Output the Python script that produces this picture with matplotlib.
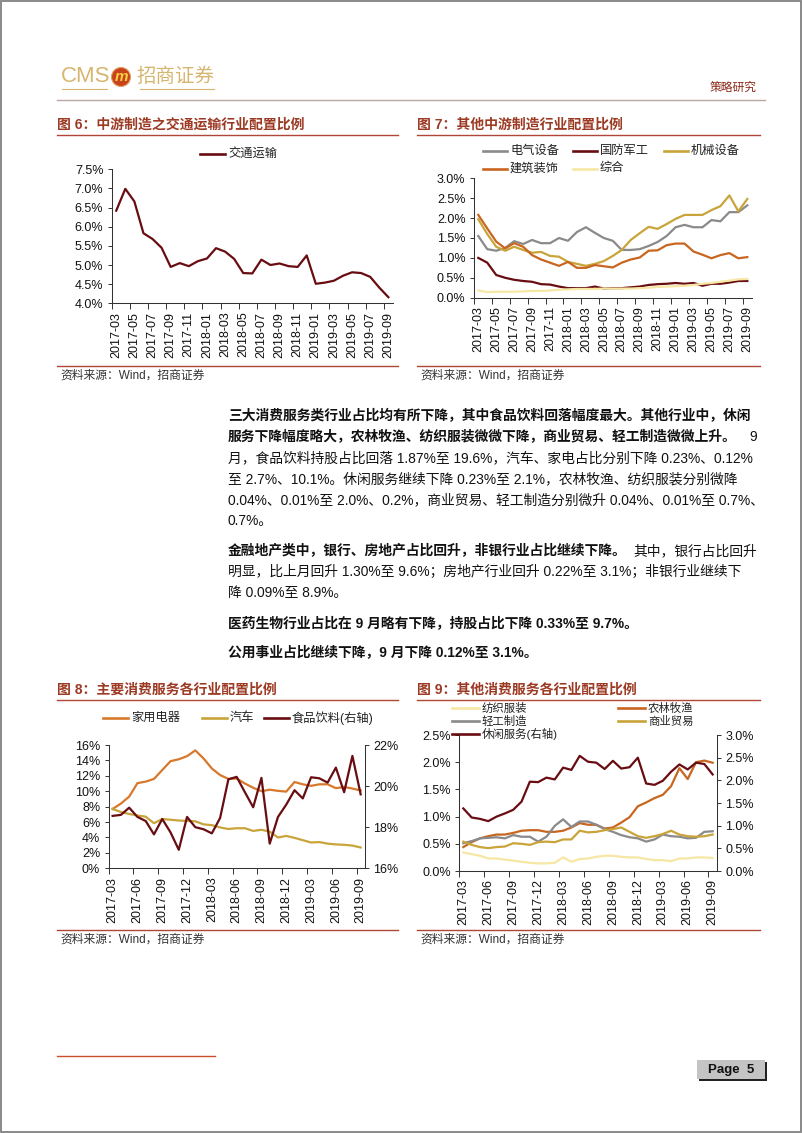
import matplotlib

matplotlib.use("Agg")
import matplotlib.pyplot as plt  # noqa: E402
import numpy as np  # noqa: E402
from matplotlib.lines import Line2D  # noqa: E402
from matplotlib.patches import Ellipse, Rectangle  # noqa: E402
from matplotlib.ticker import FuncFormatter  # noqa: E402

W, H = 802, 1133
FONT = ["Liberation Sans", "Noto Sans CJK SC"]
plt.rcParams.update({"font.family": FONT, "font.size": 8.8, "axes.unicode_minus": False})

# month categories shared by all four charts
MONTHS = [
    "2017-03", "2017-04", "2017-05", "2017-06", "2017-07", "2017-08", "2017-09", "2017-10",
    "2017-11", "2017-12", "2018-01", "2018-02", "2018-03", "2018-04", "2018-05", "2018-06",
    "2018-07", "2018-08", "2018-09", "2018-10", "2018-11", "2018-12", "2019-01", "2019-02",
    "2019-03", "2019-04", "2019-05", "2019-06", "2019-07", "2019-08", "2019-09",
]

# fig 6 (%)
TRANSPORT = [6.42, 6.99, 6.66, 5.83, 5.68, 5.45, 4.95, 5.05, 4.97, 5.10, 5.17, 5.44, 5.35, 5.16,
             4.79, 4.78, 5.14, 5.00, 5.04, 4.97, 4.95, 5.25, 4.51, 4.54, 4.59, 4.72, 4.81, 4.79,
             4.69, 4.41, 4.16]

# fig 7 (%)
ELEC = [1.55, 1.22, 1.18, 1.25, 1.42, 1.35, 1.45, 1.37, 1.37, 1.50, 1.43, 1.65, 1.77, 1.63,
        1.50, 1.43, 1.20, 1.20, 1.22, 1.30, 1.40, 1.55, 1.77, 1.83, 1.77, 1.77, 1.95, 1.92,
        2.15, 2.15, 2.32]
DEFENSE = [1.00, 0.88, 0.57, 0.50, 0.45, 0.42, 0.40, 0.34, 0.33, 0.28, 0.24, 0.24, 0.24, 0.28,
           0.23, 0.24, 0.24, 0.26, 0.28, 0.32, 0.34, 0.35, 0.37, 0.35, 0.37, 0.30, 0.35, 0.35,
           0.38, 0.42, 0.42]
MACHINE = [1.97, 1.60, 1.28, 1.18, 1.28, 1.20, 1.13, 1.15, 1.05, 1.03, 0.90, 0.85, 0.80, 0.85,
           0.92, 1.05, 1.20, 1.45, 1.62, 1.78, 1.73, 1.85, 1.98, 2.08, 2.08, 2.08, 2.20, 2.30,
           2.57, 2.17, 2.48]
BUILD = [2.08, 1.74, 1.41, 1.24, 1.37, 1.28, 1.07, 0.96, 0.88, 0.80, 0.90, 0.75, 0.75, 0.82,
         0.79, 0.76, 0.88, 0.96, 1.01, 1.18, 1.19, 1.32, 1.36, 1.36, 1.16, 1.08, 0.99, 1.07,
         1.12, 0.99, 1.02]
CONGLOM = [0.18, 0.14, 0.15, 0.15, 0.15, 0.16, 0.17, 0.17, 0.18, 0.20, 0.21, 0.22, 0.22, 0.22,
           0.23, 0.23, 0.23, 0.23, 0.24, 0.25, 0.27, 0.28, 0.29, 0.30, 0.32, 0.35, 0.37, 0.40,
           0.43, 0.46, 0.47]

# fig 8 (%), food on right axis
APPLIANCE = [7.7, 8.4, 9.3, 11.05, 11.25, 11.6, 12.75, 13.9, 14.15, 14.55, 15.3, 14.25, 12.95,
             12.1, 11.6, 11.65, 11.0, 10.45, 10.0, 10.2, 10.05, 9.95, 11.2, 10.9, 10.7, 10.9,
             10.9, 10.4, 10.55, 10.35, 10.1]
AUTO = [7.7, 7.3, 7.05, 6.85, 6.7, 5.85, 6.4, 6.3, 6.2, 6.15, 6.1, 5.7, 5.6, 5.3, 5.1, 5.2, 5.2,
        4.85, 5.0, 4.75, 4.0, 4.2, 3.95, 3.65, 3.35, 3.4, 3.2, 3.1, 3.05, 2.95, 2.7]
FOOD = [18.55, 18.6, 18.95, 18.5, 18.3, 17.65, 18.4, 17.75, 16.9, 18.5, 18.0, 17.9, 17.7, 18.45,
        20.33, 20.45, 19.7, 18.97, 20.4, 17.2, 18.5, 19.1, 19.8, 19.4, 20.43, 20.38, 20.17,
        20.9, 19.7, 21.47, 19.6]

# fig 9 (%), leisure on right axis
TEXTILE = [0.34, 0.31, 0.28, 0.23, 0.23, 0.21, 0.19, 0.17, 0.15, 0.14, 0.14, 0.15, 0.25, 0.17,
           0.22, 0.23, 0.26, 0.28, 0.28, 0.26, 0.25, 0.25, 0.22, 0.20, 0.20, 0.18, 0.23, 0.23,
           0.25, 0.25, 0.24]
AGRI = [0.44, 0.53, 0.60, 0.64, 0.67, 0.67, 0.70, 0.74, 0.75, 0.75, 0.72, 0.72, 0.74, 0.80,
        0.88, 0.85, 0.85, 0.78, 0.80, 0.89, 0.99, 1.19, 1.26, 1.34, 1.40, 1.56, 1.89, 1.69,
        2.00, 2.03, 1.99]
LIGHT = [0.51, 0.55, 0.60, 0.61, 0.62, 0.60, 0.66, 0.63, 0.63, 0.54, 0.63, 0.83, 0.95, 0.81,
         0.91, 0.91, 0.85, 0.77, 0.72, 0.66, 0.62, 0.60, 0.54, 0.58, 0.67, 0.64, 0.63, 0.60,
         0.61, 0.72, 0.73]
TRADE = [0.54, 0.48, 0.44, 0.42, 0.44, 0.45, 0.51, 0.50, 0.48, 0.53, 0.54, 0.53, 0.58, 0.58,
         0.74, 0.71, 0.72, 0.75, 0.77, 0.80, 0.72, 0.64, 0.61, 0.64, 0.68, 0.74, 0.67, 0.64,
         0.63, 0.64, 0.67]
LEISURE = [1.38, 1.18, 1.15, 1.10, 1.20, 1.27, 1.35, 1.53, 1.97, 1.96, 2.06, 2.02, 2.28, 2.23,
           2.54, 2.41, 2.39, 2.25, 2.43, 2.26, 2.29, 2.50, 1.93, 1.90, 1.99, 2.19, 2.35, 2.24,
           2.39, 2.36, 2.13]

C = {
    "maroon": "#680d12",
    "gray": "#8a8a8c",
    "gold": "#c9a43a",
    "orange": "#c8661f",
    "amber": "#d8782c",
    "pale": "#f6e7a4",
    "title": "#9c3a24",
    "rule": "#b0463a",
    "logo": "#d6b66e",
    "ink": "#111111",
}
LW = 1.6

fig = plt.figure(figsize=(W / 100, H / 100), dpi=100)
fig.patch.set_facecolor("white")


def fx(x):
    return x / W


def fy(y):
    return 1 - y / H


def hline(x0, x1, y, color, lw=0.9):
    fig.add_artist(Line2D([fx(x0), fx(x1)], [fy(y), fy(y)], transform=fig.transFigure,
                          color=color, lw=lw))


def axes_px(left, top, right, bottom):
    return fig.add_axes([fx(left), fy(bottom), (right - left) / W, (bottom - top) / H])


def style(ax, ylim, yticks, fmt, every):
    n = len(MONTHS)
    ax.set_xlim(-0.5, n - 0.5)
    ax.set_ylim(*ylim)
    ax.set_yticks(yticks)
    ax.yaxis.set_major_formatter(FuncFormatter(lambda v, _: fmt.format(v)))
    ax.set_xticks(np.arange(-0.5, n, every))
    ax.set_xticklabels([])
    ax.set_xticks(np.arange(0, n, every), minor=True)
    ax.set_xticklabels(MONTHS[::every], minor=True, rotation=90)
    ax.tick_params(axis="x", which="major", length=4, width=0.7, color="#333333")
    ax.tick_params(axis="x", which="minor", length=0, pad=6, labelsize=9, labelcolor=C["ink"])
    ax.tick_params(axis="y", length=3, width=0.7, pad=3, labelsize=9, labelcolor=C["ink"],
                   color="#333333")
    for side in ("top", "right"):
        ax.spines[side].set_visible(False)
    for side in ("left", "bottom"):
        ax.spines[side].set_color("#333333")
        ax.spines[side].set_linewidth(0.75)
    ax.patch.set_alpha(0)


def right_axis(ax, ylim, yticks, fmt):
    ax.set_ylim(*ylim)
    ax.set_yticks(yticks)
    ax.yaxis.set_major_formatter(FuncFormatter(lambda v, _: fmt.format(v)))
    ax.tick_params(axis="y", length=3, width=0.7, pad=3, labelsize=9, labelcolor=C["ink"],
                   color="#333333")
    for side in ("top", "left", "bottom"):
        ax.spines[side].set_visible(False)
    ax.spines["right"].set_color("#333333")
    ax.spines["right"].set_linewidth(0.75)


def legend_entry(x0, y, color, label, size=8.8, length=25):
    fig.add_artist(Line2D([fx(x0), fx(x0 + length)], [fy(y), fy(y)], transform=fig.transFigure,
                          color=color, lw=1.9))
    fig.text(fx(x0 + length + 3), fy(y), label, fontsize=size, va="center", color="#222222")


def header_block(x0, x1, y_title, title, y_src):
    fig.text(fx(x0), fy(y_title), title, fontsize=10, fontweight="bold", color=C["title"],
             va="center")
    hline(x0, x1, y_title + 10, C["rule"], 1.0)
    hline(x0, x1, y_src - 10, C["rule"], 1.0)
    fig.text(fx(x0 + 3), fy(y_src), "资料来源：Wind，招商证券", fontsize=8.5, color="#333333",
             va="center")


x = np.arange(len(MONTHS))

# ---- page frame, header, footer
fig.add_artist(Rectangle((0.0008, 0.0006), 0.9984, 0.9988, transform=fig.transFigure,
                         fill=False, edgecolor="#808080", lw=1.3))
fig.text(fx(61), fy(77), "CMS", fontsize=16, color=C["logo"], va="center")
fig.add_artist(Ellipse((fx(121), fy(77)), 19 / W, 19 / H, transform=fig.transFigure,
                       facecolor="#c8421c", edgecolor="#e0a060", lw=0.8))
fig.text(fx(121), fy(77), "m", fontsize=11, fontweight="bold", style="italic", color="#f5d040",
         ha="center", va="center")
fig.text(fx(136), fy(77), "招商证券", fontsize=14, color=C["logo"], va="center")
hline(62, 107, 89, C["logo"], 0.8)
hline(140, 214, 89, C["logo"], 0.8)
fig.text(fx(757), fy(88), "策略研究", fontsize=8.5, color="#8a2a18", ha="right", va="center")
hline(57, 765, 100, "#b8a8a4", 1.0)

hline(57, 215, 1056, "#c8502a", 1.0)
fig.add_artist(Rectangle((fx(699), fy(1081)), 68 / W, 19 / H, transform=fig.transFigure,
                         facecolor="#222222", edgecolor="none"))
fig.add_artist(Rectangle((fx(697), fy(1079)), 68 / W, 19 / H, transform=fig.transFigure,
                         facecolor="#c4c4c4", edgecolor="none"))
fig.text(fx(731), fy(1070), "Page  5", fontsize=9.5, fontweight="bold", ha="center",
         va="center", color="#111111")

# ---- fig 6
header_block(57, 398, 125, "图 6：中游制造之交通运输行业配置比例", 376)
ax6 = axes_px(111.7, 169.3, 392.9, 303.3)
ax6.plot(x, TRANSPORT, color=C["maroon"], lw=LW)
style(ax6, (4.0, 7.5), np.arange(4.0, 7.51, 0.5), "{:.1f}%", 2)
legend_entry(200, 153.5, C["maroon"], "交通运输")

# ---- fig 7
header_block(417, 760, 125, "图 7：其他中游制造行业配置比例", 376)
ax7 = axes_px(473.8, 178.3, 751.8, 297.7)
ax7.plot(x, ELEC, color=C["gray"], lw=LW)
ax7.plot(x, DEFENSE, color=C["maroon"], lw=LW)
ax7.plot(x, MACHINE, color=C["gold"], lw=LW)
ax7.plot(x, BUILD, color=C["orange"], lw=LW)
ax7.plot(x, CONGLOM, color=C["pale"], lw=LW)
style(ax7, (0, 3.0), np.arange(0, 3.01, 0.5), "{:.1f}%", 2)
legend_entry(483, 151, C["gray"], "电气设备", length=24)
legend_entry(573, 151, C["maroon"], "国防军工", length=24)
legend_entry(664, 151, C["gold"], "机械设备", length=24)
legend_entry(483, 168.5, C["orange"], "建筑装饰", length=24)
legend_entry(573, 168.5, C["pale"], "综合", length=24)

# ---- text block
INK = "#111111"


def rich_line(y, parts, x0=228, size=9.95, right_last=False):
    r = fig.canvas.get_renderer()
    xx = x0
    for i, (s, bold) in enumerate(parts):
        w = "bold" if bold else "normal"
        if right_last and i == len(parts) - 1:
            fig.text(fx(757), fy(y), s, fontsize=size, fontweight=w, va="center", ha="right",
                     color=INK)
            continue
        t = fig.text(fx(xx), fy(y), s, fontsize=size, fontweight=w, va="center", color=INK)
        xx += t.get_window_extent(renderer=r).width


rich_line(416, [("三大消费服务类行业占比均有所下降，其中食品饮料回落幅度最大。其他行业中，休闲", True)])
rich_line(437, [("服务下降幅度略大，农林牧渔、纺织服装微微下降，商业贸易、轻工制造微微上升。", True),
                ("9", False)], right_last=True)
rich_line(458, [("月，食品饮料持股占比回落 1.87%至 19.6%，汽车、家电占比分别下降 0.23%、0.12%", False)])
rich_line(479, [("至 2.7%、10.1%。休闲服务继续下降 0.23%至 2.1%，农林牧渔、纺织服装分别微降", False)])
rich_line(500, [("0.04%、0.01%至 2.0%、0.2%，商业贸易、轻工制造分别微升 0.04%、0.01%至 0.7%、", False)])
rich_line(521, [("0.7%。", False)])
rich_line(551, [("金融地产类中，银行、房地产占比回升，非银行业占比继续下降。", True),
                ("其中，银行占比回升", False)], right_last=True)
rich_line(572, [("明显，比上月回升 1.30%至 9.6%；房地产行业回升 0.22%至 3.1%；非银行业继续下", False)])
rich_line(593, [("降 0.09%至 8.9%。", False)])
rich_line(623, [("医药生物行业占比在 9 月略有下降，持股占比下降 0.33%至 9.7%。", True)])
rich_line(653, [("公用事业占比继续下降，9 月下降 0.12%至 3.1%。", True)])

# ---- fig 8
header_block(57, 398, 690, "图 8：主要消费服务各行业配置比例", 940)
ax8 = axes_px(108.5, 745, 364.8, 868.3)
ax8.plot(x, APPLIANCE, color=C["amber"], lw=LW)
ax8.plot(x, AUTO, color=C["gold"], lw=LW)
style(ax8, (0, 16), np.arange(0, 16.1, 2), "{:.0f}%", 3)
ax8r = ax8.twinx()
ax8r.plot(x, FOOD, color=C["maroon"], lw=LW)
right_axis(ax8r, (16, 22), [16, 18, 20, 22], "{:.0f}%")
legend_entry(103, 718, C["amber"], "家用电器")
legend_entry(202, 718, C["gold"], "汽车")
legend_entry(264, 718, C["maroon"], "食品饮料(右轴)")

# ---- fig 9
header_block(417, 760, 690, "图 9：其他消费服务各行业配置比例", 940)
ax9 = axes_px(459.2, 735, 716.8, 871)
ax9.plot(x, TEXTILE, color=C["pale"], lw=LW)
ax9.plot(x, AGRI, color=C["orange"], lw=LW)
ax9.plot(x, LIGHT, color=C["gray"], lw=LW)
ax9.plot(x, TRADE, color=C["gold"], lw=LW)
style(ax9, (0, 2.5), np.arange(0, 2.51, 0.5), "{:.1f}%", 3)
ax9r = ax9.twinx()
ax9r.plot(x, LEISURE, color=C["maroon"], lw=LW)
right_axis(ax9r, (0, 3.0), np.arange(0, 3.01, 0.5), "{:.1f}%")
legend_entry(452, 708.3, C["pale"], "纺织服装", size=8.2, length=27)
legend_entry(452, 721, C["gray"], "轻工制造", size=8.2, length=27)
legend_entry(452, 733.7, C["maroon"], "休闲服务(右轴)", size=8.2, length=27)
legend_entry(618, 708.3, C["orange"], "农林牧渔", size=8.2, length=27)
legend_entry(618, 721, C["gold"], "商业贸易", size=8.2, length=27)

fig.savefig("out.png", dpi=100, facecolor="white")
